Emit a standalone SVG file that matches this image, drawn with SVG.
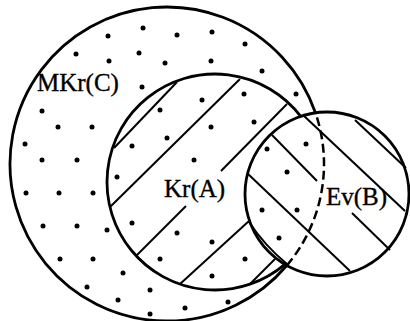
<svg xmlns="http://www.w3.org/2000/svg" width="410" height="321" viewBox="0 0 410 321">
<style>
.edge{fill:none;stroke:#000;stroke-width:2.8}
.dash{fill:none;stroke:#000;stroke-width:2.5;stroke-dasharray:9 4.5}
.hatch{fill:none;stroke:#000;stroke-width:2;stroke-linecap:butt}
.dot{fill:#000}
.lbl{font-family:"Liberation Serif","Times New Roman",serif;font-size:25px;fill:#000;stroke:#000;stroke-width:0.35}
</style>
<rect width="410" height="321" fill="#fff"/>
<g id="dots">
<circle class="dot" cx="143" cy="28" r="2.5"/><circle class="dot" cx="108" cy="36" r="2.5"/><circle class="dot" cx="177" cy="35" r="2.5"/>
<circle class="dot" cx="76" cy="54" r="2.5"/><circle class="dot" cx="139" cy="53" r="2.5"/><circle class="dot" cx="109" cy="61" r="2.5"/>
<circle class="dot" cx="165" cy="63" r="2.5"/><circle class="dot" cx="142" cy="87" r="2.5"/><circle class="dot" cx="202" cy="100" r="2.5"/>
<circle class="dot" cx="160" cy="110" r="2.5"/><circle class="dot" cx="42" cy="111" r="2.5"/><circle class="dot" cx="58" cy="127" r="2.5"/>
<circle class="dot" cx="92" cy="127" r="2.5"/><circle class="dot" cx="167" cy="138" r="2.5"/><circle class="dot" cx="25" cy="144" r="2.5"/>
<circle class="dot" cx="132" cy="146" r="2.5"/><circle class="dot" cx="42" cy="160" r="2.5"/><circle class="dot" cx="77" cy="160" r="2.5"/>
<circle class="dot" cx="194" cy="160" r="2.5"/>
<circle class="dot" cx="212" cy="32" r="2.5"/><circle class="dot" cx="245" cy="44" r="2.5"/><circle class="dot" cx="211" cy="61" r="2.5"/>
<circle class="dot" cx="262" cy="71" r="2.5"/><circle class="dot" cx="244" cy="94" r="2.5"/><circle class="dot" cx="296" cy="94" r="2.5"/>
<circle class="dot" cx="254" cy="122" r="2.5"/><circle class="dot" cx="211" cy="127" r="2.5"/><circle class="dot" cx="306" cy="144" r="2.5"/>
<circle class="dot" cx="267" cy="149" r="2.5"/>
<circle class="dot" cx="117" cy="177" r="2.5"/><circle class="dot" cx="26" cy="193" r="2.5"/><circle class="dot" cx="59" cy="193" r="2.5"/>
<circle class="dot" cx="93" cy="193" r="2.5"/><circle class="dot" cx="43" cy="226" r="2.5"/><circle class="dot" cx="77" cy="226" r="2.5"/>
<circle class="dot" cx="107" cy="230" r="2.5"/><circle class="dot" cx="132" cy="223" r="2.5"/><circle class="dot" cx="177" cy="233" r="2.5"/>
<circle class="dot" cx="60" cy="259" r="2.5"/><circle class="dot" cx="93" cy="259" r="2.5"/><circle class="dot" cx="160" cy="259" r="2.5"/>
<circle class="dot" cx="123" cy="273" r="2.5"/><circle class="dot" cx="87" cy="287" r="2.5"/><circle class="dot" cx="150" cy="290" r="2.5"/>
<circle class="dot" cx="118" cy="300" r="2.5"/><circle class="dot" cx="185" cy="308" r="2.5"/><circle class="dot" cx="150" cy="314" r="2.5"/>
<circle class="dot" cx="287" cy="172" r="2.5"/><circle class="dot" cx="262" cy="210" r="2.5"/><circle class="dot" cx="297" cy="210" r="2.5"/>
<circle class="dot" cx="279" cy="238" r="2.5"/><circle class="dot" cx="212" cy="242" r="2.5"/><circle class="dot" cx="245" cy="259" r="2.5"/>
<circle class="dot" cx="212" cy="276" r="2.5"/><circle class="dot" cx="228" cy="302" r="2.5"/>
</g>
<g id="hatch-A">
<path class="hatch" d="M114,148 L177,82"/>
<path class="hatch" d="M240,79 L110,207"/>
<path class="hatch" d="M287,104 L221,171"/>
<path class="hatch" d="M186,206 L137,255"/>
<path class="hatch" d="M249,221 L180,284"/>
<path class="hatch" d="M275,259 L250,284"/>
</g>
<g id="hatch-B">
<path class="hatch" d="M272,135 L317,181"/>
<path class="hatch" d="M352,213 L390,250"/>
<path class="hatch" d="M303,115 L405,211"/>
<path class="hatch" d="M355,120 L406,168"/>
<path class="hatch" d="M247,173 L350,271"/>
<path class="hatch" d="M249,222 Q265,246 287,264"/>
</g>
<g id="C">
<path class="edge" d="M315.43,112.82 A157,157 0 1 0 286.81,265.48"/>
<path class="dash" d="M286.81,265.48 A157,157 0 0 0 315.43,112.82"/>
<text class="lbl" x="37" y="91">MKr(C)</text>
</g>
<g id="A">
<path class="edge" d="M300.74,116.32 A108,108 0 1 0 284.88,264.36"/>
<text class="lbl" x="164" y="197">Kr(A)</text>
</g>
<g id="B">
<circle class="edge" cx="327" cy="194" r="82"/>
<text class="lbl" x="326" y="205">Ev(B)</text>
</g>
<g id="connectors"/>
</svg>
